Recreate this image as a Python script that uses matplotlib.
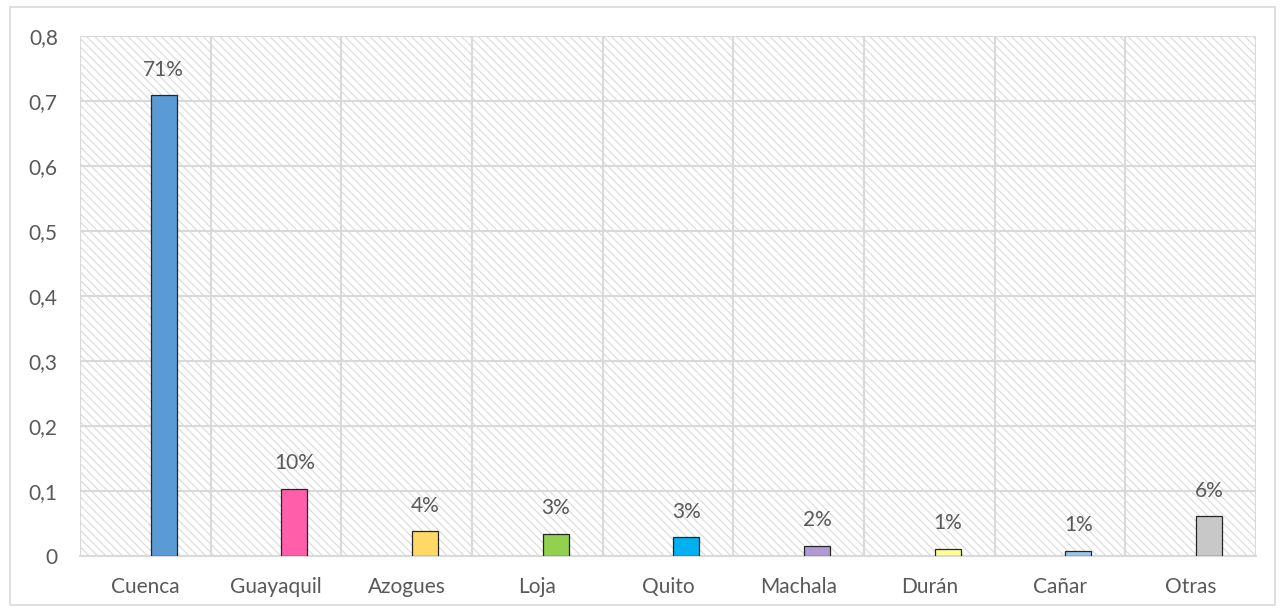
import numpy as np
import matplotlib.pyplot as plt
from matplotlib.patches import Rectangle

# ----------------------------------------------------------
# Datos
# ----------------------------------------------------------

ciudades = ["Cuenca", "Guayaquil", "Azogues", "Loja", "Quito",
            "Machala", "Durán", "Cañar", "Otras"]

porcentajes = [0.709, 0.103, 0.038, 0.034, 0.029, 0.016, 0.011, 0.008, 0.061]

etiquetas = ["71%", "10%", "4%", "3%", "3%", "2%", "1%", "1%", "6%"]

colores = ["#5B9BD5", "#FF5FA8", "#FFD966", "#92D050", "#00B0F0",
           "#B09AD6", "#FFFF99", "#9DC3E6", "#C8C8C8"]

y_ticks = [0, 0.1, 0.2, 0.3, 0.4, 0.5, 0.6, 0.7, 0.8]
y_labels = ["0", "0,1", "0,2", "0,3", "0,4", "0,5", "0,6", "0,7", "0,8"]

# ----------------------------------------------------------
# Figura
# ----------------------------------------------------------

plt.rcParams["font.family"] = ["Lato", "DejaVu Sans"]
plt.rcParams["hatch.color"] = "#d6d6d6"
plt.rcParams["hatch.linewidth"] = 0.7

TEXTO = "#595959"
GRID = "#d9d9d9"

fig = plt.figure(figsize=(12.83, 6.13), dpi=100)

# marco exterior
fig.patches.append(Rectangle((0.008, 0.013), 0.986, 0.975,
                             transform=fig.transFigure, fill=False,
                             edgecolor=GRID, linewidth=1.2))

ax = fig.add_axes([0.0624, 0.093, 0.9166, 0.848])

x = np.arange(len(ciudades))

# fondo rayado
ax.add_patch(Rectangle((0, 0), 1, 1, transform=ax.transAxes,
                       facecolor="white", edgecolor="#d6d6d6",
                       hatch="\\\\\\\\", linewidth=0, zorder=0))

barras = ax.bar(x + 0.14, porcentajes, width=0.2, color=colores,
                edgecolor="#262626", linewidth=0.9, zorder=3)

for xi, v, t in zip(x, porcentajes, etiquetas):
    ax.text(xi + 0.14, v + 0.024, t, ha="center", va="bottom",
            fontsize=15, color=TEXTO, zorder=4)

ax.set_xlim(-0.5, len(ciudades) - 0.5)
ax.set_ylim(0, 0.8)

ax.set_yticks(y_ticks)
ax.set_yticklabels(y_labels)
ax.set_xticks(x)
ax.set_xticklabels(ciudades)

ax.set_xticks(np.arange(len(ciudades) + 1) - 0.5, minor=True)
ax.grid(True, which="minor", axis="x", color=GRID, linewidth=1.5, zorder=1)
ax.grid(True, which="major", axis="y", color=GRID, linewidth=1.5, zorder=1)
ax.set_axisbelow(True)

ax.tick_params(axis="both", which="both", length=0, labelsize=15,
               labelcolor=TEXTO)
ax.tick_params(axis="x", pad=15)
ax.tick_params(axis="y", pad=16)

for lado in ["top", "right", "left"]:
    ax.spines[lado].set_visible(False)
ax.spines["bottom"].set_color(GRID)
ax.spines["bottom"].set_linewidth(1.5)

fig.savefig("out.png", dpi=100)
